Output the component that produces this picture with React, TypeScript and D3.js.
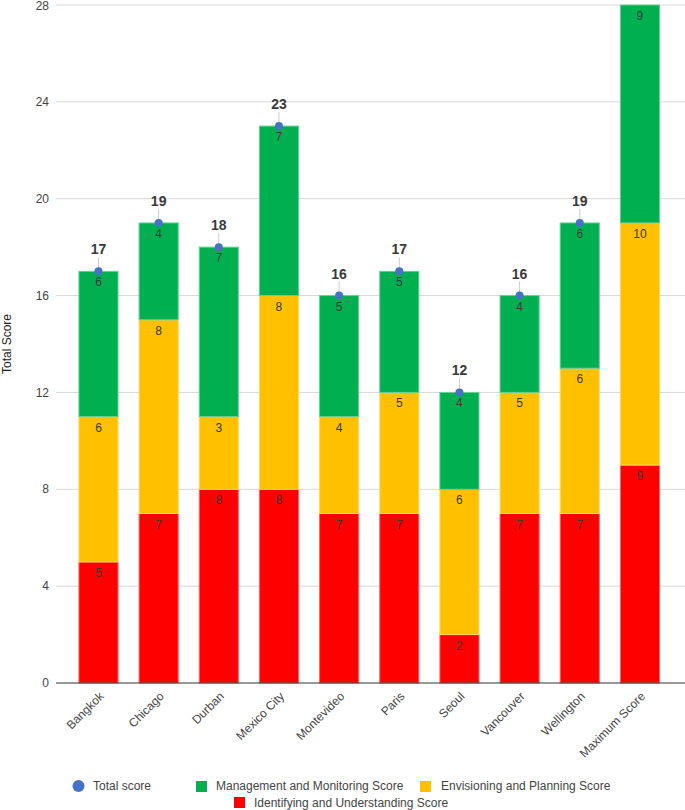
import React from "react";
import * as d3 from "d3";

const categories = ["Bangkok", "Chicago", "Durban", "Mexico City", "Montevideo", "Paris", "Seoul", "Vancouver", "Wellington", "Maximum Score"];
const identifying = [5, 7, 8, 8, 7, 7, 2, 7, 7, 9];
const envisioning = [6, 8, 3, 8, 4, 5, 6, 5, 6, 10];
const management = [6, 4, 7, 7, 5, 5, 4, 4, 6, 9];
const totals: (number | null)[] = [17, 19, 18, 23, 16, 17, 12, 16, 19, null];
const yTicks = [0, 4, 8, 12, 16, 20, 24, 28];

const seriesNames = ["Identifying and Understanding Score", "Envisioning and Planning Score", "Management and Monitoring Score"];
const colors = ["#ff0000", "#ffc000", "#00b050"];
const strokes = ["#ff6666", "#ffd966", "#66d096"];

const W = 685, H = 810;
const FONT = "Arial, 'Liberation Sans', sans-serif";

export default function App() {
  const y = d3.scaleLinear().domain([0, 28]).range([683, 5]);
  const x = d3.scaleBand<string>().domain(categories).range([68.4, 670]).paddingInner(0.35).paddingOuter(0.175);
  const series = [identifying, envisioning, management];
  const bw = x.bandwidth();

  return (
    <svg width={W} height={H} style={{ position: "absolute", left: 0, top: 0 }} fontFamily={FONT}>
      <rect width={W} height={H} fill="#fff" />
      {yTicks.map((t) => (
        <g key={t}>
          {t !== 0 && <line x1={56} x2={685} y1={y(t)} y2={y(t)} stroke="#d9d9d9" strokeWidth={1} />}
          <text x={49} y={y(t)} dy={t === 28 ? "0.45em" : "0.35em"} textAnchor="end" fontSize={12} fill="#444">{t}</text>
        </g>
      ))}
      <text transform={`translate(11,${(y(0) + y(28)) / 2}) rotate(-90)`} textAnchor="middle" fontSize={12} fill="#222">Total Score</text>
      {categories.map((c, i) => {
        let base = 0;
        const x0 = x(c)!;
        return (
          <g key={c}>
            {series.map((s, k) => {
              const v = s[i];
              const y0 = y(base), y1 = y(base + v);
              base += v;
              return (
                <g key={k}>
                  <rect x={x0} y={y1} width={bw} height={y0 - y1} fill={colors[k]} stroke={strokes[k]} strokeWidth={1} />
                  <text x={x0 + bw / 2} y={y1 + 15} textAnchor="middle" fontSize={12} fill="#3a3a3a">{v}</text>
                </g>
              );
            })}
          </g>
        );
      })}
      <line x1={56} x2={685} y1={y(0)} y2={y(0)} stroke="#333" strokeWidth={1} />
      {categories.map((c, i) => {
        const t = totals[i];
        if (t == null) return null;
        const cx = x(c)! + bw / 2;
        return (
          <g key={"t" + c}>
            <line x1={cx} x2={cx} y1={y(t)} y2={y(t) - 14} stroke="#cccccc" strokeWidth={1} />
            <circle cx={cx} cy={y(t)} r={4} fill="#4472c4" />
            <text x={cx} y={y(t) - 17} textAnchor="middle" fontSize={14} fontWeight="bold" fill="#3a3a3a">{t}</text>
          </g>
        );
      })}
      {categories.map((c) => {
        const cx = x(c)! + bw / 2;
        return (
          <text key={"l" + c} transform={`translate(${cx + 6},${697}) rotate(-45)`} textAnchor="end" fontSize={12} fill="#444">{c}</text>
        );
      })}
      <g fontSize={12} fill="#444">
        <circle cx={78.5} cy={786} r={6} fill="#4472c4" />
        <text x={93} y={786} dy="0.35em" fill="#444">Total score</text>
        <rect x={196} y={781} width={11} height={11} fill={colors[2]} />
        <text x={216} y={786} dy="0.35em" fill="#444">{seriesNames[2]}</text>
        <rect x={420} y={781} width={11} height={11} fill={colors[1]} />
        <text x={441} y={786} dy="0.35em" fill="#444">{seriesNames[1]}</text>
        <rect x={234} y={797} width={11} height={11} fill={colors[0]} />
        <text x={254} y={802.5} dy="0.35em" fill="#444">{seriesNames[0]}</text>
      </g>
    </svg>
  );
}
